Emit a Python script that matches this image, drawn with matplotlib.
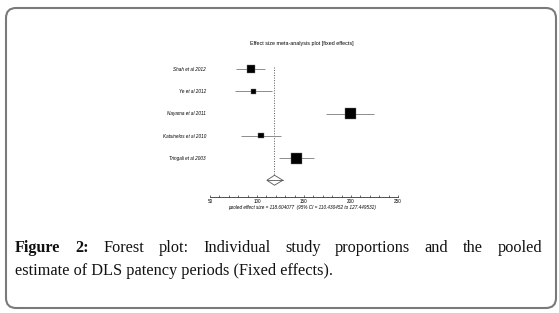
import matplotlib
matplotlib.use("Agg")
import matplotlib.pyplot as plt
import numpy as np
from matplotlib.patches import FancyBboxPatch, Polygon
from matplotlib.ticker import MultipleLocator

# ---- data ----
studies = ["Shah et al 2012", "Ye et al 2012", "Nayama et al 2011",
           "Katsinelos et al 2010", "Tringali et al 2003"]
effects = [93.3, 96.5, 199.7, 104.3, 142.2]
ci_low = [77.7, 76.9, 173.4, 83.0, 123.7]
ci_high = [108.2, 115.6, 224.8, 125.2, 160.3]
weights = [64, 25, 121, 30, 121]
pooled = 118.604077
pooled_low = 110.430452
pooled_high = 127.449532
x_ticks = [50, 100, 150, 200, 250]
title = "Effect size meta-analysis plot [fixed effects]"
caption_bold = "Figure 2:"
caption_line1 = "Forest plot: Individual study proportions and the pooled"
caption_line2 = "estimate of DLS patency periods (Fixed effects)."

W, H = 559, 313
fig = plt.figure(figsize=(W / 100, H / 100), dpi=100)

def fx(px):
    return px / W

def fy(py):
    return 1 - py / H

# rounded frame
frame = FancyBboxPatch((fx(6), fy(308)), fx(550), (300) / H,
                       boxstyle="round,pad=0,rounding_size=0.018",
                       transform=fig.transFigure, fill=False,
                       edgecolor="#7a7a7a", linewidth=1.5, mutation_aspect=W / H)
fig.patches.append(frame)

# forest plot axes
left_px, right_px, top_px, bot_px = 210, 398, 60, 197
ax = fig.add_axes([fx(left_px), fy(bot_px), fx(right_px - left_px), (bot_px - top_px) / H])
ax.set_xlim(50, 250)
row_px = 22.25
ax.set_ylim(1 + (bot_px - 69) / row_px, 1 + (top_px - 69) / row_px)
ax.patch.set_visible(False)
for s in ["top", "right", "left"]:
    ax.spines[s].set_visible(False)
ax.spines["bottom"].set_linewidth(0.6)
ax.spines["bottom"].set_color("#333333")
ax.xaxis.set_minor_locator(MultipleLocator(10))
ax.set_xticks(x_ticks)
ax.set_xticklabels([str(t) for t in x_ticks], fontsize=3.3, family="Liberation Sans")
ax.tick_params(axis="x", which="both", direction="in", length=1.6, width=0.5,
               color="#333333", pad=1.5)

rows = np.arange(1, len(studies) + 1)
ax.set_yticks(rows)
ax.set_yticklabels(studies, fontsize=3.3, family="Liberation Sans", style="italic")
ax.tick_params(axis="y", length=0, pad=2.9)

# CI lines
ax.hlines(rows, ci_low, ci_high, color="#8c8c8c", linewidth=0.7, zorder=2)
# boxes
sides_pt = np.sqrt(np.array(weights)) * 0.72
ax.scatter(effects, rows, marker="s", s=sides_pt ** 2, color="black",
           edgecolors="#777777", linewidths=0.3, zorder=3)

# pooled diamond
dy = 5 / row_px
yd = len(studies) + 1
diamond = Polygon([[pooled_low, yd], [pooled, yd - dy], [pooled_high, yd], [pooled, yd + dy]],
                  closed=True, fill=False, edgecolor="#555555", linewidth=0.6, zorder=3)
ax.add_patch(diamond)
ax.plot([pooled_low, pooled_high], [yd, yd], color="#555555", linewidth=0.6, zorder=3)
ax.vlines(pooled, 0.9, yd - dy, color="#555555", linewidth=0.7,
          linestyles=(0, (1.0, 1.6)), zorder=1)

# title
fig.text(fx(302), fy(44), title, fontsize=3.9, family="Liberation Sans",
         ha="center", va="center")
# pooled text
fig.text(fx(302), fy(208),
         f"pooled effect size = {pooled:.6f}  (95% CI = {pooled_low:.6f} to {pooled_high:.6f})",
         fontsize=3.3, family="Liberation Sans", style="italic", ha="center", va="center")

# caption (justified first line)
fig.canvas.draw()
renderer = fig.canvas.get_renderer()
serif = "Liberation Serif"

def width_px(txt, size, weight="normal"):
    t = fig.text(0, 0, txt, fontsize=size, family=serif, weight=weight)
    w = t.get_window_extent(renderer).width
    t.remove()
    return w

base = 12
w2 = width_px(caption_line2, base)
cap_size = base * 316 / w2

words = [(w, "bold") for w in caption_bold.split()] + [(w, "normal") for w in caption_line1.split()]
widths = [width_px(w, cap_size, wt) for w, wt in words]
x0, x1 = 15, 542
gap = (x1 - x0 - sum(widths)) / (len(words) - 1)
x = x0
for (wd, wt), wpx in zip(words, widths):
    fig.text(fx(x), fy(252), wd, fontsize=cap_size, family=serif, weight=wt,
             ha="left", va="baseline", color="#111111")
    x += wpx + gap
fig.text(fx(15), fy(275), caption_line2, fontsize=cap_size, family=serif,
         ha="left", va="baseline", color="#111111")

fig.savefig("out.png", dpi=100)
